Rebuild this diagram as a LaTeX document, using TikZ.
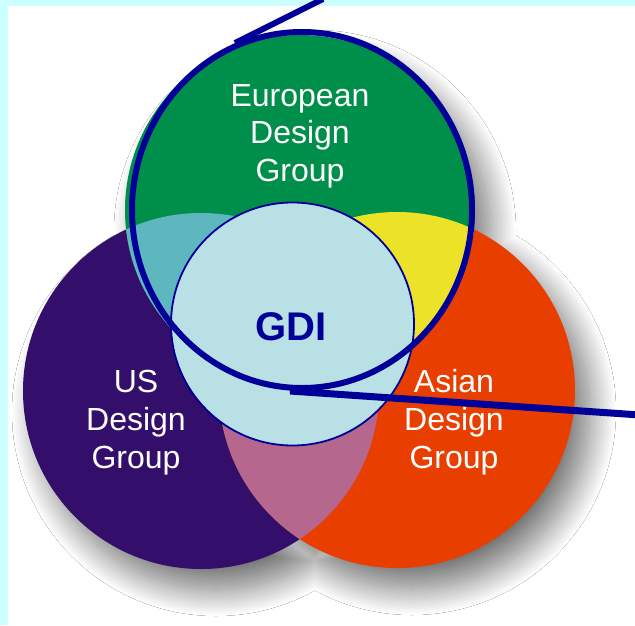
\documentclass[tikz,border=0pt]{standalone}
\usepackage{fontspec}
\setmainfont{Liberation Sans}
\usetikzlibrary{shadows.blur}

\definecolor{framecyan}{RGB}{204,255,255}
\definecolor{eugreen}{RGB}{0,143,74}
\definecolor{uspurple}{RGB}{51,14,106}
\definecolor{asorange}{RGB}{232,62,0}
\definecolor{euusteal}{RGB}{94,183,190}
\definecolor{euasyellow}{RGB}{236,227,40}
\definecolor{usasmauve}{RGB}{182,103,141}
\definecolor{gdifill}{RGB}{185,224,229}
\definecolor{gdiblue}{RGB}{0,0,153}

\tikzset{
  grouplabel/.style={anchor=base, text=white, inner sep=0pt,
    font=\fontsize{32}{37.5}\selectfont},
  gdilabel/.style={anchor=base, text=gdiblue, inner sep=0pt,
    font=\fontsize{40}{44}\selectfont\bfseries},
  lasso/.style={draw=gdiblue, line width=6pt},
}

\begin{document}
\begin{tikzpicture}[x=1pt,y=-1pt]
  \useasboundingbox (0,0) rectangle (635,625);

  % frame and page
  \fill[framecyan] (0,0) rectangle (635,625);
  \fill[white] (8,6) rectangle (635,625);

  % circle centres
  \coordinate (eu) at (300,210);
  \coordinate (us) at (201,391);
  \coordinate (as) at (397,390);
  \coordinate (gdi) at (292.5,324);

  % soft shadow behind the three groups
  \begin{scope}
    \clip (8,6) rectangle (635,625);
    \path[blur shadow={shadow xshift=15pt, shadow yshift=-21pt,
        shadow blur radius=26pt, shadow blur steps=40,
        shadow opacity=55}]
      (us) circle[radius=178pt] (as) circle[radius=178pt]
      (eu) circle[radius=175pt];
  \end{scope}

  % the three design groups
  \fill[uspurple] (us) circle[radius=178pt];
  \fill[asorange] (as) circle[radius=178pt];
  \fill[eugreen] (eu) circle[radius=175pt];

  % pairwise overlaps
  \begin{scope}
    \clip (eu) circle[radius=175pt];
    \fill[euusteal] (us) circle[radius=178pt];
    \fill[euasyellow] (as) circle[radius=178pt];
  \end{scope}
  \begin{scope}
    \clip (us) circle[radius=178pt];
    \fill[usasmauve] (as) circle[radius=178pt];
  \end{scope}

  % GDI in the middle
  \filldraw[fill=gdifill, draw=gdiblue, line width=1.8pt]
    (gdi) circle[radius=121.5pt];

  % labels
  \node[grouplabel] (eu1) at (300,106) {European};
  \node[grouplabel] (eu2) at (300,143.5) {Design};
  \node[grouplabel] (eu3) at (300,181) {Group};

  \node[grouplabel] (us1) at (136,392) {US};
  \node[grouplabel] (us2) at (136,430) {Design};
  \node[grouplabel] (us3) at (136,468) {Group};

  \node[grouplabel] (as1) at (454,392) {Asian};
  \node[grouplabel] (as2) at (454,430) {Design};
  \node[grouplabel] (as3) at (454,468) {Group};

  \node[gdilabel] (gdiname) at (291,340) {GDI};

  % lasso round the European group with its two tails
  \coordinate (rim) at (302,210);
  \draw[lasso] (rim) ellipse[x radius=170pt, y radius=178pt];
  \coordinate (tailtopin) at (235,43);
  \coordinate (tailtopout) at (323,-1);
  \draw[lasso] (tailtopin) -- (tailtopout);
  \coordinate (tailrightin) at (290,391);
  \coordinate (tailrightout) at (640,415);
  \draw[lasso, line width=7pt] (tailrightin) -- (tailrightout);
\end{tikzpicture}
\end{document}
